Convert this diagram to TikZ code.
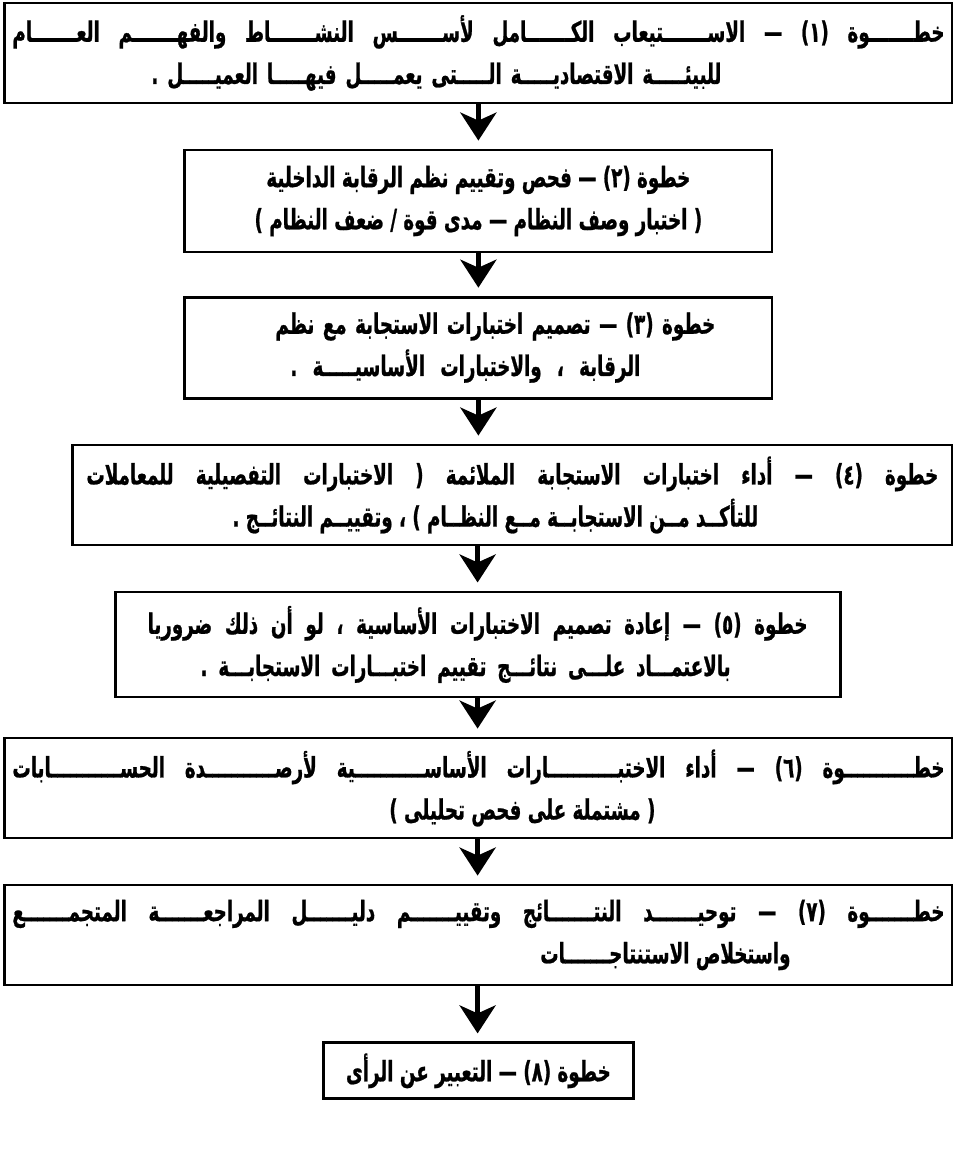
\documentclass[tikz,border=0pt]{standalone}
\usepackage{fontspec}
\newfontfamily\arabicfont[Script=Arabic,FakeStretch=0.65,FakeBold=0.8]{DejaVu Sans}
\TeXXeTstate=1
\usetikzlibrary{positioning}
\usetikzlibrary{arrows.meta}
% line spread to a given width
\newcommand{\spread}[2]{\makebox[#1][s]{#2}}

\begin{document}
\begin{tikzpicture}[
    stepbox/.style={draw, rectangle, line width=2pt, align=center, inner sep=0pt,
        font=\arabicfont\bfseries\fontsize{20}{30}\selectfont},
    flow/.style={line width=3.5pt, -{Stealth[width=0.9cm,length=0.7cm,inset=0.2cm]}, shorten >=0.2cm}
]
\useasboundingbox (0,0) rectangle (23.9,-28.775);

\node[stepbox, minimum width=23.675cm, minimum height=2.5cm] (s1) at (11.96,-1.325)
    {\spread{23.3cm}{\beginR خطـــــــوة (١) — الاســـــــتيعاب الكـــــــامل لأســـــــس النشـــــــاط والفهـــــــم العـــــــام\endR}\\
     \spread{14.25cm}{\beginR للبيئـــــة الاقتصاديـــــة الـــــتى يعمـــــل فيهـــــا العميـــــل .\endR}\hspace*{2.1cm}};
\node[stepbox, minimum width=14.675cm, minimum height=2.55cm] (s2) at (11.96,-5.025)
    {\beginR خطوة (٢) — فحص وتقييم نظم الرقابة الداخلية\endR\\
     \beginR ( اختبار وصف النظام — مدى قوة / ضعف النظام )\endR};
\node[stepbox, minimum width=14.675cm, minimum height=2.525cm] (s3) at (11.96,-8.69)
    {\hspace*{0.85cm}\spread{11cm}{\beginR خطوة (٣) — تصميم اختبارات الاستجابة مع نظم\endR}\\
     \spread{8.75cm}{\beginR الرقابة ، والاختبارات الأساسيـــــة .\endR}\hspace*{0.65cm}};
\node[stepbox, minimum width=21.975cm, minimum height=2.5cm] (s4) at (12.81,-12.375)
    {\spread{21.3cm}{\beginR خطوة (٤) — أداء اختبارات الاستجابة الملائمة ( الاختبارات التفصيلية للمعاملات\endR}\\
     \beginR للتأكــد مــن الاستجابــة مــع النظــام ) ، وتقييــم النتائــج .\endR\hspace*{0.85cm}};
\node[stepbox, minimum width=18.125cm, minimum height=2.625cm] (s5) at (11.94,-16.11)
    {\spread{16.5cm}{\beginR خطوة (٥) — إعادة تصميم الاختبارات الأساسية ، لو أن ذلك ضروريا\endR}\\
     \spread{13.25cm}{\beginR بالاعتمـــاد علـــى نتائـــج تقييم اختبـــارات الاستجابـــة .\endR}\hspace*{0.6cm}};
\node[stepbox, minimum width=23.675cm, minimum height=2.5cm] (s6) at (11.96,-19.7)
    {\spread{23.3cm}{\beginR خطـــــــــــوة (٦) — أداء الاختبـــــــــــارات الأساســـــــــــية لأرصـــــــــــدة الحســـــــــــابات\endR}\\
     \hspace*{2.2cm}\beginR ( مشتملة على فحص تحليلى )\endR};
\node[stepbox, minimum width=23.675cm, minimum height=2.5cm] (s7) at (11.96,-23.375)
    {\spread{23.3cm}{\beginR خطـــــــوة (٧) — توحيـــــــد النتـــــــائج وتقييـــــــم دليـــــــل المراجعـــــــة المتجمـــــــع\endR}\\
     \hspace*{9.35cm}\beginR واستخلاص الاستنتاجـــــــات\endR};
\node[stepbox, minimum width=7.75cm, minimum height=1.4cm, below=1.375cm of s7] (s8)
    {\beginR خطوة (٨) — التعبير عن الرأى\endR};

\draw[flow] (s1) -- (s2);
\draw[flow] (s2) -- (s3);
\draw[flow] (s3.south) -- (s3.south |- s4.north);
\draw[flow] (s5.north |- s4.south) -- (s5.north);
\draw[flow] (s5.south) -- (s5.south |- s6.north);
\draw[flow] (s5.south |- s6.south) -- (s5.south |- s7.north);
\draw[flow] (s5.south |- s7.south) -- (s5.south |- s8.north);
\end{tikzpicture}
\end{document}
